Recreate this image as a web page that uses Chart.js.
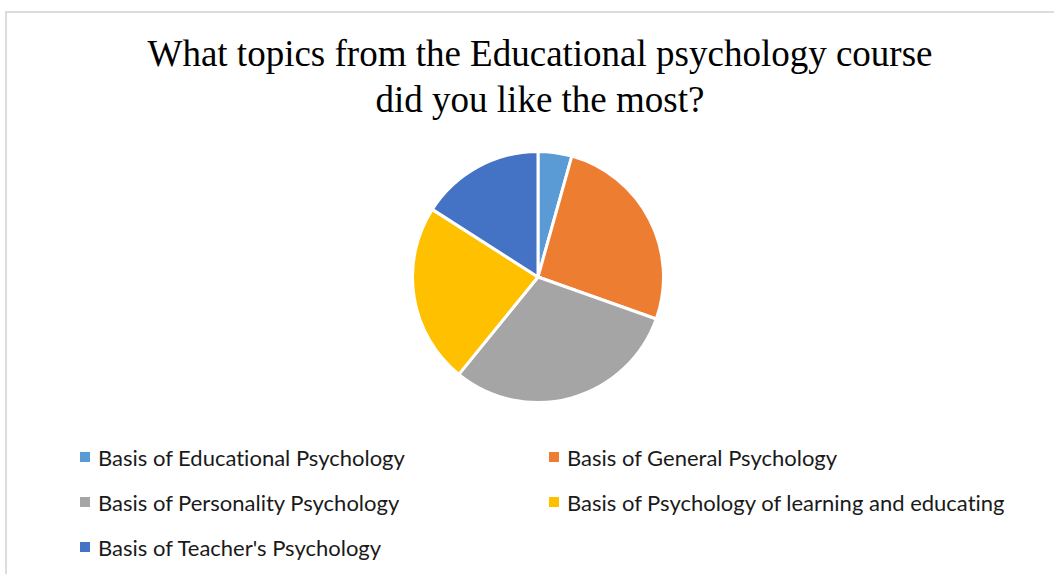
<!DOCTYPE html>
<html>
<head>
<meta charset="utf-8">
<script src="https://cdn.jsdelivr.net/npm/chart.js@4"></script>
<style>
  html, body { margin:0; padding:0; background:#fff; width:1054px; height:574px; overflow:hidden; }
  .frame { position:absolute; left:5px; top:11px; width:1100px; height:600px; border-left:2px solid #dcdcdc; border-top:2px solid #dcdcdc; }
  .title { position:absolute; left:0; width:1080px; top:31px; text-align:center; font-family:"Liberation Serif","Times New Roman",serif; font-size:37px; line-height:46px; color:#000; }
  .pie-wrap { position:absolute; left:411px; top:150px; width:254px; height:254px; }
  .legend { position:absolute; left:0; top:0; font-family:"Lato","Open Sans",sans-serif; font-size:22px; color:#1a1a1a; font-variant-ligatures:none; }
  .legend .item { position:absolute; display:flex; align-items:center; white-space:nowrap; }
  .legend .box { width:10px; height:10px; margin-right:8px; }
</style>
</head>
<body>
<div class="frame"></div>
<div class="title">What topics from the Educational psychology course<br>did you like the most?</div>
<div class="pie-wrap"><canvas id="pie"></canvas></div>
<div class="legend" id="legend"></div>
<script>
// Survey answers (slice sizes)
const topics = [
  'Basis of Educational Psychology',
  'Basis of General Psychology',
  'Basis of Personality Psychology',
  'Basis of Psychology of learning and educating',
  "Basis of Teacher's Psychology"
];
const votes = [3, 18, 21, 16, 11];
const colors = ['#5B9BD5', '#ED7D31', '#A5A5A5', '#FFC000', '#4472C4'];

new Chart(document.getElementById('pie'), {
  type: 'pie',
  data: { labels: topics, datasets: [{ data: votes, backgroundColor: colors, borderColor: '#fff', borderWidth: 3 }] },
  options: {
    responsive: true, maintainAspectRatio: false, animation: false,
    plugins: { legend: { display: false }, tooltip: { enabled: false } }
  }
});

// legend: two columns, Excel style
const legend = document.getElementById('legend');
const colX = [80, 549], rowY = [457, 502, 547];
topics.forEach((t, i) => {
  const el = document.createElement('div');
  el.className = 'item';
  el.style.left = colX[i % 2] + 'px';
  el.style.top = (rowY[Math.floor(i / 2)] - 13) + 'px';
  el.style.height = '26px';
  el.innerHTML = `<span class="box" style="background:${colors[i]}"></span><span>${t}</span>`;
  legend.appendChild(el);
});
</script>
</body>
</html>
